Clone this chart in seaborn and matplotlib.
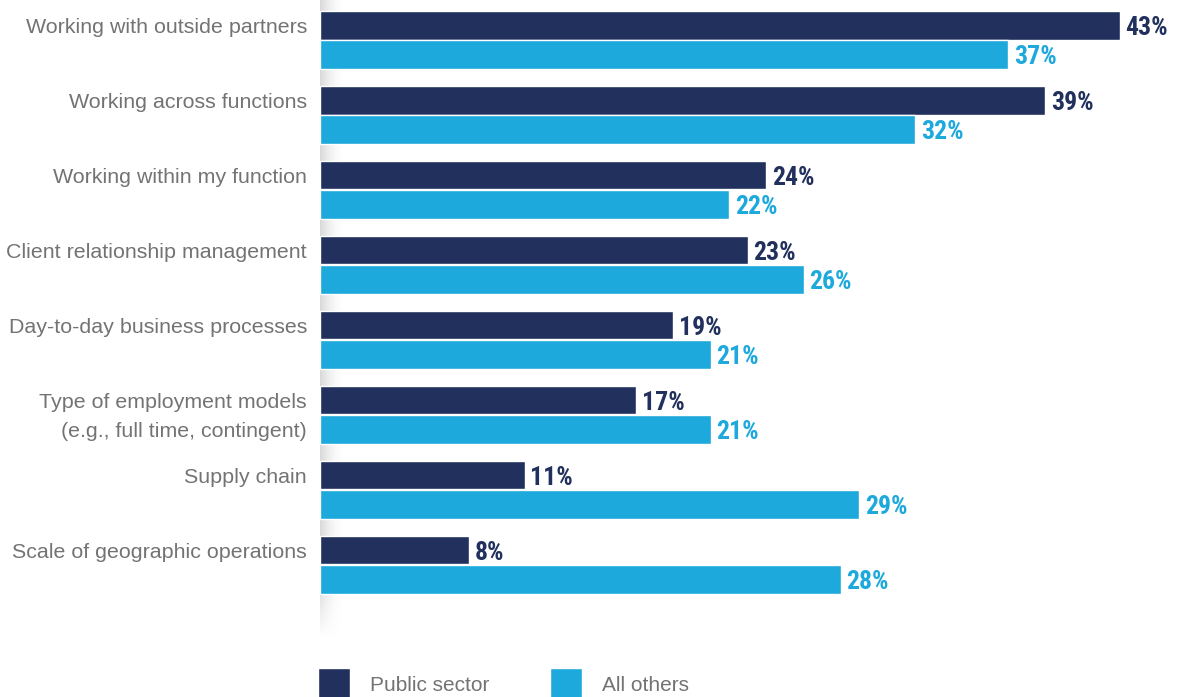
import numpy as np
import pandas as pd
import matplotlib
matplotlib.use("Agg")
import matplotlib.pyplot as plt
import seaborn as sns
from matplotlib import font_manager
from matplotlib.font_manager import FontProperties

categories = [
    "Working with outside partners",
    "Working across functions",
    "Working within my function",
    "Client relationship management",
    "Day-to-day business processes",
    "Type of employment models\n(e.g., full time, contingent)",
    "Supply chain",
    "Scale of geographic operations",
]
public_sector = [43, 39, 24, 23, 19, 17, 11, 8]
all_others = [37, 32, 22, 26, 21, 21, 29, 28]
series_names = ["Public sector", "All others"]

DARK = "#22305e"
LIGHT = "#1ea9dc"
GRAY = "#737373"

sns.set_theme(style="white")
plt.rcParams["font.family"] = ["Liberation Sans", "DejaVu Sans"]


def condensed_bold():
    """Pick a narrow bold face for the value labels if one is installed."""
    cands = []
    for f in font_manager.fontManager.ttflist:
        name = f.name.lower()
        fn = f.fname.lower()
        narrow = ("narrow" in name or "condensed" in name or "condensed" in fn
                  or "narrow" in fn or f.stretch in ("condensed", "semi-condensed"))
        bold = (f.weight in ("bold", 700) or "bold" in fn) and "oblique" not in fn and "italic" not in fn
        if narrow and bold:
            cands.append(f)
    for pref in ("liberation", "roboto", "noto", "open", "dejavu"):
        for f in cands:
            if pref in f.name.lower():
                return FontProperties(fname=f.fname, size=18.5), True
    if cands:
        return FontProperties(fname=cands[0].fname, size=18.5), True
    return FontProperties(family="Liberation Sans", weight="bold", size=15.5), False


value_fp, _ = condensed_bold()

df = pd.DataFrame({
    "category": categories * 2,
    "value": public_sector + all_others,
    "series": [series_names[0]] * len(categories) + [series_names[1]] * len(categories),
})

W, H = 1178, 697
fig = plt.figure(figsize=(W / 100, H / 100), dpi=100)
ax_left, ax_right, ax_top, ax_bottom = 320, 1178, 0, 640
ax = fig.add_axes([ax_left / W, 1 - ax_bottom / H, (ax_right - ax_left) / W, (ax_bottom - ax_top) / H])

group_w = 0.78
sns.barplot(data=df, y="category", x="value", hue="series", order=categories,
            hue_order=series_names, palette=[DARK, LIGHT], orient="h",
            width=group_w, gap=0.03, saturation=1, ax=ax, zorder=2)

# value labels at the bar ends
for cont, col in zip(ax.containers, [DARK, LIGHT]):
    labels = ax.bar_label(cont, fmt="%d%%", padding=4, color=col, fontproperties=value_fp)
    for t in labels:
        t.set_verticalalignment("center_baseline")

# soft shadow along the category axis
sh_w = 26
img = np.zeros((200, 60, 4))
xs = np.linspace(0, 1, 60)
ys = np.linspace(0, 1, 200)  # 0 = top row
horiz = (1 - xs) ** 2
vert = np.clip((1 - ys) / 0.09, 0, 1)
img[..., :3] = 0.55
img[..., 3] = 0.34 * np.outer(vert, horiz)
ax.imshow(img, extent=[0, sh_w / (ax_right - ax_left), 0, 1], transform=ax.transAxes,
          aspect="auto", zorder=1, interpolation="bilinear")

px_per_unit = 18.6
ax.set_xlim(0, (ax_right - ax_left) / px_per_unit)
ax.set_ylim(7.47 + 0.533, -0.533)

ax.set_yticks([])
ax.set_xticks([])
ax.set_ylabel("")
ax.set_xlabel("")
for s in ax.spines.values():
    s.set_visible(False)

# category labels aligned with the bars of each group
bar_off = group_w / 4
for i, cat in enumerate(categories):
    for k, line in enumerate(cat.split("\n")):
        ax.annotate(line, xy=(0, i - bar_off + k * 2 * bar_off), xycoords="data",
                    xytext=(-13 * 0.72, 0), textcoords="offset points",
                    ha="right", va="center_baseline", fontsize=15.4, color=GRAY)

sns.move_legend(ax, loc="upper left", bbox_to_anchor=(318 / W, 1 - 668 / H),
                bbox_transform=fig.transFigure, ncol=2, frameon=False, title=None,
                fontsize=15, handlelength=1.54, handleheight=2.0,
                handletextpad=0.95, columnspacing=2.9, borderpad=0, borderaxespad=0)
for t in ax.get_legend().get_texts():
    t.set_color(GRAY)

fig.savefig("out.png", dpi=100)
